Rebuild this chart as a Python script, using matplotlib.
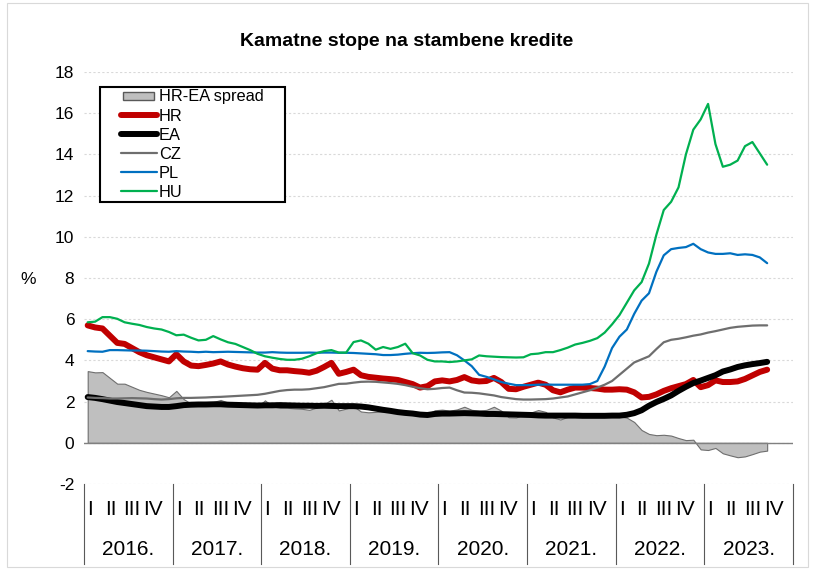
import numpy as np
import matplotlib
matplotlib.use("Agg")
import matplotlib.pyplot as plt
from matplotlib.legend_handler import HandlerLine2D, HandlerPatch
from matplotlib.patches import Rectangle

plt.rcParams['font.family'] = ['Liberation Sans', 'DejaVu Sans']
plt.rcParams['axes.unicode_minus'] = False

years = ['2016.', '2017.', '2018.', '2019.', '2020.', '2021.', '2022.', '2023.']
quarters = ['I', 'II', 'III', 'IV']

# monthly rates, Jan 2016 - Sep 2023 (%)
hr = [5.70, 5.60, 5.55, 5.20, 4.85, 4.80, 4.60, 4.40, 4.25, 4.15, 4.05, 3.95,
      4.30, 3.95, 3.75, 3.72, 3.78, 3.85, 3.95, 3.80, 3.70, 3.62, 3.57, 3.55,
      3.88, 3.60, 3.52, 3.52, 3.48, 3.45, 3.40, 3.50, 3.68, 3.88, 3.35, 3.44,
      3.55, 3.28, 3.20, 3.16, 3.12, 3.09, 3.05, 2.95, 2.85, 2.68, 2.75, 2.98,
      3.03, 2.98, 3.05, 3.19, 3.03, 2.98, 3.00, 3.15, 2.95, 2.62, 2.60, 2.72,
      2.82, 2.92, 2.82, 2.55, 2.45, 2.58, 2.68, 2.68, 2.66, 2.63, 2.58, 2.58,
      2.60, 2.58, 2.45, 2.20, 2.23, 2.35, 2.52, 2.65, 2.75, 2.85, 3.05, 2.70,
      2.80, 3.03, 2.95, 2.95, 2.98, 3.10, 3.27, 3.44, 3.55]

ea = [2.22, 2.18, 2.12, 2.05, 1.98, 1.93, 1.88, 1.83, 1.78, 1.76, 1.74, 1.74,
      1.78, 1.83, 1.85, 1.86, 1.86, 1.87, 1.87, 1.85, 1.84, 1.83, 1.82, 1.81,
      1.82, 1.82, 1.83, 1.82, 1.81, 1.80, 1.80, 1.79, 1.80, 1.79, 1.78, 1.78,
      1.78, 1.76, 1.72, 1.66, 1.60, 1.55, 1.49, 1.45, 1.42, 1.37, 1.35, 1.40,
      1.42, 1.42, 1.43, 1.44, 1.43, 1.42, 1.40, 1.40, 1.39, 1.38, 1.37, 1.36,
      1.35, 1.33, 1.32, 1.32, 1.32, 1.32, 1.32, 1.31, 1.31, 1.31, 1.31, 1.32,
      1.32, 1.36, 1.44, 1.58, 1.80, 1.98, 2.13, 2.30, 2.52, 2.72, 2.90, 3.02,
      3.15, 3.28, 3.46, 3.56, 3.68, 3.76, 3.82, 3.87, 3.93]

cz = [2.20, 2.18, 2.17, 2.15, 2.15, 2.16, 2.17, 2.16, 2.15, 2.12, 2.10, 2.12,
      2.16, 2.18, 2.18, 2.19, 2.20, 2.22, 2.23, 2.25, 2.27, 2.29, 2.31, 2.33,
      2.38, 2.45, 2.52, 2.56, 2.58, 2.58, 2.60, 2.65, 2.70, 2.78, 2.86, 2.87,
      2.92, 2.96, 2.97, 2.96, 2.93, 2.90, 2.86, 2.80, 2.72, 2.65, 2.60, 2.62,
      2.66, 2.68, 2.55, 2.44, 2.43, 2.40, 2.35, 2.30, 2.22, 2.17, 2.12, 2.10,
      2.10, 2.11, 2.12, 2.15, 2.20, 2.25, 2.35, 2.45, 2.55, 2.68, 2.82, 3.00,
      3.30, 3.60, 3.90, 4.05, 4.20, 4.55, 4.88, 5.00, 5.05, 5.12, 5.20, 5.26,
      5.35, 5.42, 5.50, 5.58, 5.63, 5.66, 5.69, 5.70, 5.70]

pl = [4.45, 4.43, 4.42, 4.50, 4.50, 4.49, 4.48, 4.48, 4.47, 4.45, 4.43, 4.42,
      4.45, 4.43, 4.42, 4.40, 4.42, 4.40, 4.41, 4.42, 4.41, 4.40, 4.39, 4.38,
      4.38, 4.40, 4.38, 4.37, 4.37, 4.37, 4.38, 4.37, 4.38, 4.38, 4.37, 4.37,
      4.36, 4.34, 4.32, 4.30, 4.26, 4.26, 4.28, 4.32, 4.35, 4.37, 4.36, 4.37,
      4.39, 4.40, 4.25, 4.00, 3.72, 3.30, 3.20, 3.08, 2.95, 2.87, 2.80, 2.80,
      2.80, 2.82, 2.83, 2.82, 2.82, 2.82, 2.82, 2.82, 2.85, 3.00, 3.70, 4.60,
      5.15, 5.50, 6.26, 6.90, 7.26, 8.30, 9.10, 9.40, 9.46, 9.50, 9.66, 9.40,
      9.24, 9.17, 9.17, 9.20, 9.12, 9.15, 9.12, 9.00, 8.72]

hu = [5.85, 5.88, 6.10, 6.10, 6.02, 5.85, 5.78, 5.72, 5.62, 5.55, 5.50, 5.38,
      5.22, 5.25, 5.10, 4.97, 5.00, 5.18, 5.02, 4.88, 4.80, 4.65, 4.50, 4.32,
      4.20, 4.13, 4.07, 4.03, 4.03, 4.08, 4.20, 4.35, 4.45, 4.50, 4.38, 4.38,
      4.89, 4.97, 4.81, 4.52, 4.65, 4.56, 4.65, 4.81, 4.35, 4.24, 4.03, 3.95,
      3.95, 3.92, 3.95, 4.00, 4.05, 4.24, 4.20, 4.18, 4.16, 4.15, 4.14, 4.15,
      4.30, 4.33, 4.40, 4.40, 4.50, 4.62, 4.77, 4.85, 4.95, 5.08, 5.35, 5.75,
      6.20, 6.80, 7.40, 7.80, 8.70, 10.10, 11.30, 11.70, 12.40, 14.00, 15.20, 15.70,
      16.45, 14.50, 13.40, 13.50, 13.70, 14.40, 14.60, 14.05, 13.50]

x = np.arange(len(hr))
spread = np.array(hr) - np.array(ea)


class RightLine(HandlerLine2D):
    # line drawn only in the right part of the handle box
    def get_xdata(self, legend, xdescent, ydescent, width, height, fontsize):
        xd = np.array([-xdescent + width * 0.34, -xdescent + width])
        return xd, xd


def right_patch(legend, orig_handle, xdescent, ydescent, width, height, fontsize):
    return Rectangle((-xdescent + width * 0.375, -ydescent + height * 0.15),
                     width * 0.57, height * 0.7)


fig = plt.figure(figsize=(8.15, 5.69), dpi=100)
ax = fig.add_axes([84 / 815, 1 - 484 / 569, 709 / 815, 412 / 569])

ax.fill_between(x, 0, spread, facecolor='#BFBFBF', edgecolor='#6E6E6E',
                linewidth=0.8, zorder=2)
kw = dict(solid_capstyle='round', solid_joinstyle='round')
l_hr, = ax.plot(x, hr, color='#C00000', lw=4.3, label='HR', zorder=3, **kw)
l_ea, = ax.plot(x, ea, color='black', lw=4.3, label='EA', zorder=3, **kw)
l_cz, = ax.plot(x, cz, color='#6E6E6E', lw=1.6, label='CZ', zorder=3, **kw)
l_pl, = ax.plot(x, pl, color='#0070C0', lw=1.6, label='PL', zorder=3, **kw)
l_hu, = ax.plot(x, hu, color='#00B050', lw=1.6, label='HU', zorder=3, **kw)
p_sp = Rectangle((0, 0), 1, 1, facecolor='#BFBFBF', edgecolor='#595959',
                 linewidth=1.0, label='HR-EA spread')

ax.axhline(0, color='#808080', lw=1.0, zorder=2.5)

ax.set_xlim(-0.5, 95.5)
ax.set_ylim(-2, 18)
ax.set_yticks(range(-2, 19, 2))
ax.set_xticks([])
ax.yaxis.grid(True, linestyle=(0, (2, 2)), color='#D9D9D9', lw=0.8)
ax.set_axisbelow(True)
for s in ax.spines.values():
    s.set_visible(False)
ax.tick_params(axis='y', length=0, pad=7, labelsize=12.5)

# category axis: quarters, years and separators
tr = ax.get_xaxis_transform()
q_off = [0.3, 3.1, 6.0, 8.9]
for k, yr in enumerate(years):
    ax.text(12 * k + 5.5, -0.16, yr, transform=tr, ha='center', va='center',
            fontsize=15)
    for q, lab in enumerate(quarters):
        ax.text(12 * k + q_off[q], -0.063, lab, transform=tr, ha='center',
                va='center', fontsize=15)
for k in range(len(years) + 1):
    ax.plot([12 * k - 0.5] * 2, [0, -0.194], transform=tr, color='#595959',
            lw=0.8, clip_on=False)

handles = [p_sp, l_hr, l_ea, l_cz, l_pl, l_hu]
leg = ax.legend(handles=handles, loc='upper left',
                bbox_to_anchor=(0.0226, 0.5, 0.261, 0.4636),
                mode='expand', borderaxespad=0, fontsize=11.8, frameon=True,
                fancybox=False, edgecolor='black', framealpha=1,
                borderpad=0.15, labelspacing=0.25, handlelength=3.32,
                handletextpad=0.12,
                handler_map={Rectangle: HandlerPatch(patch_func=right_patch),
                             plt.Line2D: RightLine()})
leg.get_frame().set_linewidth(1.5)
leg.set_zorder(5)

fig.text(407 / 815, 1 - 42 / 569, 'Kamatne stope na stambene kredite',
         ha='center', va='center', fontsize=14, fontweight='bold')
fig.text(28 / 815, 1 - 280 / 569, '%', ha='center', va='center', fontsize=12.5)

fig.patches.append(Rectangle((7 / 815, 2 / 569), 801 / 815, 564 / 569,
                             transform=fig.transFigure, fill=False,
                             edgecolor='#D9D9D9', lw=0.8))

fig.savefig('out.png', dpi=100)
